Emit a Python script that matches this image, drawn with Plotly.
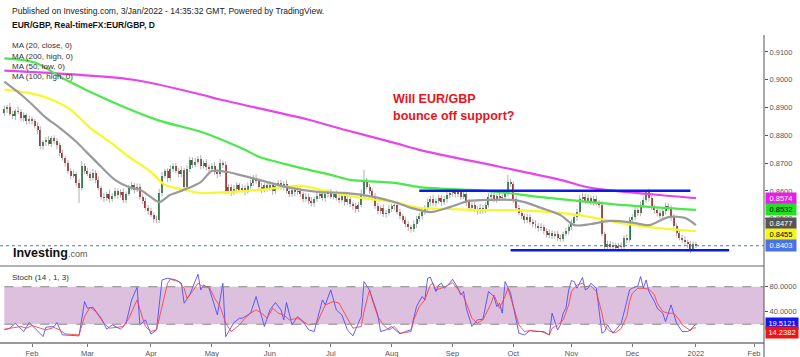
import plotly.graph_objects as go

# ---------------- DATA ----------------
# x = trading-day index, 0 = 1 Feb 2021 (weekdays only)
start_idx = -10
first_open = 0.8880
closes = [
    0.8895, 0.8902, 0.8878, 0.8870, 0.8889, 0.8885, 0.8862, 0.8872, 0.8850, 0.8858,
    0.8850, 0.8835, 0.8818, 0.8760, 0.8775, 0.8783, 0.8770, 0.8790, 0.8778, 0.8765,
    0.8735, 0.8718, 0.8700, 0.8672, 0.8655, 0.8660, 0.8630, 0.8612, 0.8690, 0.8672,
    0.8662, 0.8648, 0.8665, 0.8640, 0.8610, 0.8580, 0.8575, 0.8590, 0.8570, 0.8582,
    0.8600, 0.8585, 0.8595, 0.8568, 0.8590, 0.8612, 0.8620, 0.8605, 0.8615, 0.8580,
    0.8565, 0.8540, 0.8528, 0.8515, 0.8500, 0.8495, 0.8592, 0.8655, 0.8670, 0.8645,
    0.8680, 0.8690, 0.8672, 0.8660, 0.8675, 0.8615, 0.8680, 0.8712, 0.8695, 0.8705,
    0.8715, 0.8690, 0.8702, 0.8685, 0.8678, 0.8690, 0.8668, 0.8660, 0.8700, 0.8695,
    0.8600, 0.8615, 0.8595, 0.8608, 0.8620, 0.8605, 0.8612, 0.8598, 0.8618, 0.8630,
    0.8648, 0.8635, 0.8615, 0.8605, 0.8620, 0.8610, 0.8622, 0.8600, 0.8618, 0.8630,
    0.8615, 0.8625, 0.8600, 0.8590, 0.8605, 0.8595, 0.8600, 0.8588, 0.8572, 0.8580,
    0.8565, 0.8555, 0.8570, 0.8582, 0.8590, 0.8575, 0.8588, 0.8596, 0.8580, 0.8588,
    0.8575, 0.8568, 0.8582, 0.8560, 0.8570, 0.8552, 0.8545, 0.8535, 0.8550, 0.8590,
    0.8635, 0.8615, 0.8600, 0.8580, 0.8545, 0.8528, 0.8540, 0.8518, 0.8522, 0.8535,
    0.8545, 0.8550, 0.8525, 0.8510, 0.8495, 0.8480, 0.8470, 0.8462, 0.8480, 0.8500,
    0.8510, 0.8525, 0.8540, 0.8560, 0.8572, 0.8555, 0.8565, 0.8575, 0.8560, 0.8570,
    0.8585, 0.8592, 0.8598, 0.8588, 0.8595, 0.8580, 0.8590, 0.8560, 0.8540, 0.8548,
    0.8535, 0.8528, 0.8540, 0.8530, 0.8550, 0.8578, 0.8585, 0.8570, 0.8582, 0.8575,
    0.8580, 0.8590, 0.8632, 0.8625, 0.8570, 0.8540, 0.8522, 0.8510, 0.8495, 0.8505,
    0.8490, 0.8482, 0.8475, 0.8465, 0.8470, 0.8455, 0.8442, 0.8450, 0.8438, 0.8445,
    0.8432, 0.8428, 0.8445, 0.8455, 0.8470, 0.8485, 0.8505, 0.8525, 0.8570, 0.8580,
    0.8565, 0.8575, 0.8560, 0.8572, 0.8558, 0.8550, 0.8445, 0.8400, 0.8410, 0.8398,
    0.8405, 0.8395, 0.8402, 0.8398, 0.8430, 0.8425, 0.8495, 0.8505, 0.8530, 0.8520,
    0.8550, 0.8568, 0.8598, 0.8575, 0.8540, 0.8530, 0.8520, 0.8510, 0.8528, 0.8545,
    0.8538, 0.8505, 0.8475, 0.8450, 0.8432, 0.8425, 0.8415, 0.8408, 0.8392, 0.8410,
    0.8403,
]
upper_wick_pips = [
    12, 8, 15, 10, 6, 14, 9, 11, 7, 13,
    10, 9, 12, 15, 8, 11, 14, 7, 10, 12,
    9, 13, 8, 11, 10, 14, 7, 12, 18, 9,
    11, 8, 14, 10, 12, 9, 13, 7, 15, 10,
    12, 9, 11, 14, 8, 10, 13, 9, 12, 11,
    8, 10, 9, 12, 7, 11, 15, 14, 10, 12,
    13, 9, 11, 10, 14, 8, 12, 10, 9, 13,
    11, 14, 8, 12, 10, 9, 13, 11, 15, 9,
    12, 10, 9, 14, 11, 8, 12, 10, 13, 11,
    9, 12, 10, 14, 8, 11, 13, 9, 12, 10,
    11, 9, 13, 10, 12, 8, 14, 11, 9, 12,
    10, 13, 9, 11, 14, 8, 12, 10, 11, 9,
    13, 10, 12, 8, 11, 14, 9, 12, 10, 15,
    41, 12, 10, 9, 13, 11, 8, 12, 10, 14,
    9, 11, 13, 10, 8, 12, 11, 9, 14, 10,
    12, 10, 9, 13, 11, 14, 8, 12, 10, 11,
    13, 9, 11, 10, 12, 8, 14, 9, 11, 10,
    12, 10, 13, 9, 11, 14, 10, 12, 8, 11,
    10, 13, 26, 12, 9, 11, 10, 13, 8, 12,
    11, 9, 12, 10, 14, 8, 11, 13, 9, 10,
    12, 11, 9, 13, 10, 12, 14, 11, 15, 12,
    10, 13, 9, 11, 12, 10, 14, 9, 11, 10,
    12, 9, 11, 13, 10, 14, 12, 11, 13, 10,
    12, 11, 7, 10, 13, 9, 12, 11, 10, 13,
    11, 10, 12, 9, 11, 10, 12, 9, 11, 8,
    7,
]
lower_wick_pips = [
    10, 14, 9, 12, 15, 8, 11, 13, 10, 9,
    12, 10, 14, 9, 11, 13, 8, 12, 10, 15,
    11, 9, 13, 10, 12, 8, 14, 55, 10, 11,
    9, 12, 10, 13, 8, 11, 14, 10, 12, 9,
    10, 13, 9, 11, 12, 8, 10, 14, 9, 11,
    12, 10, 13, 9, 14, 11, 10, 12, 9, 13,
    10, 11, 9, 12, 10, 14, 8, 11, 13, 10,
    9, 12, 10, 11, 13, 8, 10, 14, 9, 12,
    11, 10, 13, 9, 12, 10, 11, 14, 8, 10,
    12, 9, 11, 13, 10, 12, 9, 14, 11, 10,
    10, 13, 9, 12, 11, 14, 10, 9, 12, 11,
    13, 10, 12, 9, 11, 10, 14, 12, 9, 11,
    10, 12, 9, 13, 11, 10, 12, 14, 11, 9,
    12, 10, 11, 13, 9, 12, 10, 11, 14, 10,
    11, 13, 10, 12, 9, 11, 14, 12, 10, 13,
    10, 12, 11, 9, 13, 10, 12, 11, 14, 10,
    12, 10, 13, 11, 9, 12, 10, 14, 11, 12,
    10, 13, 11, 12, 9, 10, 12, 11, 13, 10,
    12, 10, 11, 9, 13, 12, 10, 11, 12, 10,
    11, 13, 10, 12, 9, 11, 10, 12, 11, 10,
    12, 10, 11, 9, 12, 10, 11, 13, 10, 12,
    11, 10, 12, 13, 10, 11, 9, 12, 10, 11,
    9, 8, 12, 10, 11, 13, 10, 12, 11, 10,
    11, 12, 10, 13, 9, 11, 12, 10, 11, 12,
    10, 12, 11, 13, 10, 11, 12, 14, 16, 10,
    8,
]

# moving averages (trading-day index, value)
ma20_close = [(-10, 0.8993), (-4, 0.8947), (-1, 0.8921), (5, 0.8864), (10, 0.8827), (16, 0.8777),
              (20, 0.8737), (25, 0.8687), (30, 0.8640), (35, 0.8614), (39, 0.8604), (43, 0.8578),
              (46, 0.8560), (50, 0.8586), (55, 0.8604), (61, 0.8632), (65, 0.8672), (70, 0.8669),
              (75, 0.8658), (82, 0.8640), (92, 0.8614), (104, 0.8596), (113, 0.8593), (124, 0.8578),
              (131, 0.8560), (137, 0.8539), (144, 0.8524), (151, 0.8542), (158, 0.8564), (166, 0.8568),
              (173, 0.8568), (178, 0.8560), (184, 0.8539), (191, 0.8513), (196, 0.8477), (202, 0.8481),
              (209, 0.8492), (216, 0.8488), (223, 0.8477), (230, 0.8506), (236, 0.8503), (240, 0.8477)]
ma200_high = [(-10, 0.9033), (36, 0.9001), (61, 0.8947), (68, 0.8929), (100, 0.8856), (113, 0.8820),
              (131, 0.8773), (140, 0.8748), (169, 0.8687), (191, 0.8640), (202, 0.8611), (223, 0.8589),
              (240, 0.8574)]
ma50_low = [(-10, 0.8965), (0, 0.8950), (7, 0.8929), (14, 0.8892), (21, 0.8827), (28, 0.8777),
            (35, 0.8723), (43, 0.8669), (48, 0.8622), (55, 0.8604), (61, 0.8593), (82, 0.8604),
            (97, 0.8618), (108, 0.8596), (119, 0.8575), (131, 0.8560), (140, 0.8539), (151, 0.8535),
            (162, 0.8531), (173, 0.8531), (191, 0.8521), (202, 0.8506), (213, 0.8484), (223, 0.8470),
            (240, 0.8455)]
ma100_high = [(-10, 0.9077), (1, 0.9062), (12, 0.9001), (27, 0.8929), (46, 0.8853), (61, 0.8813),
              (77, 0.8748), (82, 0.8723), (97, 0.8683), (108, 0.8658), (115, 0.8640), (131, 0.8629),
              (140, 0.8614), (158, 0.8604), (169, 0.8596), (184, 0.8578), (202, 0.8560), (214, 0.8549),
              (240, 0.8532)]

# stochastic (14,1,3): %K (blue) and %D (red)
stoch_k = [(-10, 10.9), (-8, 13.6), (-6, 21.6), (-3, 8.3), (-1, 22.7), (1, 13.6), (4, 0.3), (5, 15.2),
           (8, 16.3), (9, 22.7), (11, 2.9), (17, 1.3), (19, 56.3), (20, 45.6), (22, 47.2), (25, 29.6),
           (27, 12.0), (29, 18.9), (32, 12.0), (34, 21.6), (36, 58.9), (38, 79.2), (39, 18.9), (41, 26.9),
           (43, 4.0), (45, 10.9), (47, 90.9), (49, 93.6), (52, 90.9), (54, 85.6), (55, 53.6), (57, 66.9),
           (60, 100.0), (61, 74.9), (62, 82.9), (64, 77.6), (67, 34.9), (69, 85.6), (70, 0.0), (73, 22.7),
           (75, 29.6), (76, 29.6), (79, 37.6), (81, 64.3), (84, 16.3), (86, 42.9), (88, 54.7), (90, 42.9),
           (91, 26.9), (92, 54.7), (94, 18.9), (96, 32.3), (98, 24.3), (100, 10.9), (102, 8.3), (105, 58.9),
           (106, 50.9), (108, 74.9), (110, 42.9), (112, 34.9), (114, 10.9), (116, 1.3), (119, 32.3),
           (120, 88.3), (122, 74.9), (125, 34.9), (126, 8.3), (128, 10.9), (130, 16.3), (132, 8.3),
           (133, 4.5), (135, 8.3), (137, 10.9), (139, 48.3), (141, 64.3), (142, 58.9), (143, 93.6),
           (144, 95.2), (146, 72.3), (147, 82.9), (148, 85.6), (149, 77.6), (151, 85.6), (152, 92.0),
           (154, 77.6), (155, 66.9), (156, 72.3), (157, 45.6), (159, 16.3), (161, 26.9), (163, 28.0),
           (165, 72.3), (167, 64.3), (168, 48.3), (169, 53.6), (170, 37.6), (171, 88.3), (173, 69.6),
           (175, 24.3), (176, 5.6), (178, 2.9), (180, 9.9), (182, 8.3), (185, 8.3), (187, 2.9), (188, 37.6),
           (190, 10.9), (191, 18.9), (192, 37.6), (193, 45.6), (194, 74.9), (195, 89.9), (196, 88.3),
           (197, 77.6), (199, 94.7), (200, 74.9), (201, 77.6), (202, 85.6), (204, 77.6), (206, 5.6),
           (207, 8.3), (208, 18.9), (210, 5.6), (211, 10.9), (213, 21.6), (215, 56.3), (216, 74.9),
           (217, 77.6), (219, 81.3), (220, 96.3), (221, 77.6), (222, 90.9), (223, 72.3), (225, 56.3),
           (226, 45.6), (228, 37.6), (229, 24.3), (231, 50.9), (233, 21.6), (235, 8.3), (237, 8.3),
           (238, 10.9), (239, 16.3), (240, 19.5121)]
stoch_d = [(-10, 12.0), (-7, 13.6), (-4, 16.3), (-2, 13.6), (0, 17.9), (3, 13.6), (5, 10.9), (8, 14.7),
           (10, 10.9), (12, 4.5), (17, 2.9), (19, 32.3), (21, 47.2), (23, 40.3), (26, 21.6), (28, 13.6),
           (31, 15.2), (33, 16.3), (35, 29.6), (37, 50.9), (38, 58.9), (40, 29.6), (41, 16.3), (43, 8.3),
           (45, 10.9), (47, 48.3), (49, 85.6), (50, 92.0), (53, 88.3), (55, 77.6), (56, 61.6), (58, 72.3),
           (60, 85.6), (62, 79.2), (64, 80.2), (66, 61.6), (68, 48.3), (70, 21.6), (72, 8.3), (75, 18.9),
           (77, 29.6), (79, 37.6), (81, 42.9), (83, 37.6), (85, 29.6), (87, 45.6), (89, 37.6), (91, 34.9),
           (93, 26.9), (96, 29.6), (98, 24.3), (100, 18.9), (103, 21.6), (105, 40.3), (106, 50.9),
           (109, 56.3), (111, 53.6), (113, 37.6), (114, 29.6), (116, 13.6), (119, 16.3), (120, 40.3),
           (122, 74.9), (123, 58.9), (125, 32.3), (127, 18.9), (129, 10.9), (131, 16.3), (132, 10.9),
           (133, 5.6), (135, 6.7), (137, 8.3), (138, 26.9), (140, 48.3), (142, 58.9), (144, 82.9),
           (145, 85.6), (146, 74.9), (148, 77.6), (150, 81.3), (152, 86.7), (154, 74.9), (156, 64.3),
           (157, 53.6), (159, 29.6), (161, 21.6), (163, 26.9), (166, 53.6), (167, 66.9), (169, 45.6),
           (171, 64.3), (172, 77.6), (174, 48.3), (176, 18.9), (178, 8.3), (180, 9.9), (184, 8.3),
           (187, 2.9), (188, 13.6), (190, 18.9), (192, 26.9), (194, 50.9), (195, 72.3), (197, 82.9),
           (199, 85.6), (200, 80.2), (202, 81.3), (204, 72.3), (206, 37.6), (207, 16.3), (209, 8.3),
           (211, 6.7), (213, 13.6), (215, 32.3), (216, 56.3), (217, 69.6), (219, 77.6), (221, 77.6),
           (223, 76.0), (225, 66.9), (226, 53.6), (228, 40.3), (230, 37.6), (232, 37.6), (234, 26.9),
           (235, 18.9), (238, 9.9), (239, 13.6), (240, 14.2382)]

# drawn support / resistance levels (day index from, day index to, price)
resistance = (140, 238, 0.8601)
support = (173, 252, 0.8387)
last_price = 0.8403

month_ticks = [0, 20, 43, 65, 86, 108, 130, 152, 174, 195, 217, 240, 261]
month_labels = ["Feb", "Mar", "Apr", "May", "Jun", "Jul", "Aug", "Sep", "Oct", "Nov", "Dec", "2022", "Feb"]
price_ticks = [0.85, 0.86, 0.87, 0.88, 0.89, 0.90, 0.91]
stoch_ticks = [40, 80]

# ---------------- STYLE / LAYOUT HELPERS ----------------
W, H = 800, 357
ML, MR, MT, MB = 0, 36, 35, 15
PW, PH = W - ML - MR, H - MT - MB


def px_x(px):
    return (px - ML) / PW


def px_y(py):
    return (H - MB - py) / PH


FONT = "Arial, Liberation Sans, sans-serif"
UP, DOWN = "#1E7A3C", "#A8292B"
WICK = "rgba(150,150,150,0.75)"

idx = list(range(start_idx, start_idx + len(closes)))
opens = [first_open] + closes[:-1]
highs = [max(o, c) + u / 10000 for o, c, u in zip(opens, closes, upper_wick_pips)]
lows = [min(o, c) - l / 10000 for o, c, l in zip(opens, closes, lower_wick_pips)]

wx, wy = [], []
for i, lo, hi in zip(idx, lows, highs):
    wx += [i, i, None]
    wy += [lo, hi, None]

fig = go.Figure()
fig.add_trace(go.Scatter(x=wx, y=wy, mode="lines", line=dict(color=WICK, width=1),
                         hoverinfo="skip", xaxis="x", yaxis="y"))
fig.add_trace(go.Bar(x=idx, base=[min(o, c) for o, c in zip(opens, closes)],
                     y=[max(abs(c - o), 0.00008) for o, c in zip(opens, closes)],
                     marker=dict(color=[UP if c >= o else DOWN for o, c in zip(opens, closes)],
                                 line=dict(width=0)),
                     width=0.72, hoverinfo="skip", xaxis="x", yaxis="y"))

for pts, col in [(ma200_high, "#E645EC"), (ma100_high, "#4BE84B"),
                 (ma50_low, "#F7F72A"), (ma20_close, "#9A9A9A")]:
    fig.add_trace(go.Scatter(x=[p[0] for p in pts], y=[p[1] for p in pts], mode="lines",
                             line=dict(color=col, width=2.2, shape="spline", smoothing=0.8),
                             hoverinfo="skip", xaxis="x", yaxis="y"))

fig.add_trace(go.Scatter(x=[p[0] for p in stoch_k], y=[p[1] for p in stoch_k], mode="lines",
                         line=dict(color="rgba(70,70,255,0.85)", width=1),
                         hoverinfo="skip", xaxis="x2", yaxis="y2"))
fig.add_trace(go.Scatter(x=[p[0] for p in stoch_d], y=[p[1] for p in stoch_d], mode="lines",
                         line=dict(color="rgba(255,60,60,0.85)", width=1),
                         hoverinfo="skip", xaxis="x2", yaxis="y2"))

x_range = [-11.57, 264.6]
shapes = [
    # stoch band
    dict(type="rect", xref="x2", yref="y2", x0=start_idx, x1=x_range[1], y0=20, y1=80,
         fillcolor="#DDC0DD", line=dict(width=0), layer="below"),
    dict(type="line", xref="x2", yref="y2", x0=start_idx, x1=x_range[1], y0=80, y1=80,
         line=dict(color="#888", width=1, dash="dash")),
    dict(type="line", xref="x2", yref="y2", x0=start_idx, x1=x_range[1], y0=20, y1=20,
         line=dict(color="#888", width=1, dash="dash")),
    # last price dotted line
    dict(type="line", xref="paper", yref="y", x0=0, x1=1, y0=last_price, y1=last_price,
         line=dict(color="#4A72E8", width=1, dash="dot")),
    # support / resistance
    dict(type="line", xref="x", yref="y", x0=resistance[0], x1=resistance[1],
         y0=resistance[2], y1=resistance[2], line=dict(color="#0A18E8", width=2.5)),
    dict(type="line", xref="x", yref="y", x0=support[0], x1=support[1],
         y0=support[2], y1=support[2], line=dict(color="#0A18E8", width=2.5)),
    # pane separator and right axis line
    dict(type="line", xref="paper", yref="paper", x0=0, x1=1, y0=px_y(266), y1=px_y(266),
         line=dict(color="#999", width=1.5)),
    dict(type="line", xref="paper", yref="paper", x0=1, x1=1, y0=px_y(357), y1=1,
         line=dict(color="#555", width=1)),
]

ann = []


def text(px, py, s, size=7.5, color="#222", anchor="left", bold=False):
    ann.append(dict(xref="paper", yref="paper", x=px_x(px), y=px_y(py), text=("<b>%s</b>" % s) if bold else s,
                    showarrow=False, xanchor=anchor, yanchor="middle",
                    font=dict(family=FONT, size=size, color=color)))


text(10, 11, "Published on Investing.com, 3/Jan/2022 - 14:35:32 GMT, Powered by TradingView.", size=8.5)
text(10, 25, "EUR/GBP, Real-timeFX:EUR/GBP, D", size=8.5, bold=True, color="#111")
text(10, 45, "MA (20, close, 0)", size=8, color="#333")
text(10, 56, "MA (200, high, 0)", size=8, color="#333")
text(10, 66, "MA (50, low, 0)", size=8, color="#333")
text(10, 77, "MA (100, high, 0)", size=8, color="#333")
text(10, 277, "Stoch (14 , 1, 3)", size=8, color="#333")
text(391, 99, "Will EUR/GBP", size=12.5, color="#E8141C", bold=True)
text(391, 116, "bounce off support?", size=12.5, color="#E8141C", bold=True)
text(11, 253, "<b>Investing</b><span style='font-size:9px;color:#555'>.com</span>", size=12.5, color="#111")

# right-axis value boxes: (label y position in price/oscillator units, text, bg, fg)
price_boxes = [(0.8574, "0.8574", "#E41FE8", "white"), (0.8532, "0.8532", "#22E022", "black"),
               (0.8482, "0.8477", "#555555", "white"), (0.8443, "0.8455", "#F5F51E", "black"),
               (0.8403, "0.8403", "#4A72E8", "white")]
for yv, s, bg, fg in price_boxes:
    ann.append(dict(xref="paper", yref="y", x=px_x(765), y=yv, text=s, showarrow=False,
                    xanchor="left", yanchor="middle", bgcolor=bg, borderpad=1, width=28,
                    font=dict(family=FONT, size=7.5, color=fg)))
stoch_boxes = [(20.5, "19.5121", "#1515F0", "white"), (7.5, "14.2382", "#F01515", "white")]
for yv, s, bg, fg in stoch_boxes:
    ann.append(dict(xref="paper", yref="y2", x=px_x(765), y=yv, text=s, showarrow=False,
                    xanchor="left", yanchor="middle", bgcolor=bg, borderpad=1, width=30,
                    font=dict(family=FONT, size=7.5, color=fg)))

axis_font = dict(family=FONT, size=7.5, color="#555")
fig.update_layout(
    width=W, height=H, margin=dict(l=ML, r=MR, t=MT, b=MB, autoexpand=False),
    paper_bgcolor="white", plot_bgcolor="white", showlegend=False, bargap=0,
    xaxis=dict(domain=[0, 1], anchor="y", range=x_range, showticklabels=False, ticks="",
               showgrid=False, zeroline=False, showline=False, fixedrange=True),
    yaxis=dict(domain=[px_y(266), 1], anchor="x", side="right", range=[0.8330, 0.9161],
               tickvals=price_ticks, ticktext=["%.4f" % v for v in price_ticks], ticks="outside",
               ticklen=3, tickcolor="#555", tickfont=axis_font, showgrid=False, zeroline=False,
               showline=False),
    xaxis2=dict(domain=[0, 1], anchor="y2", range=x_range, tickvals=month_ticks, ticktext=month_labels,
                ticks="outside", ticklen=3, tickcolor="#777", tickfont=axis_font, showgrid=False,
                zeroline=False, showline=True, linecolor="#999", linewidth=1.5),
    yaxis2=dict(domain=[0, px_y(268)], anchor="x2", side="right", range=[-8.5, 110],
                tickvals=stoch_ticks, ticktext=["%.4f" % v for v in stoch_ticks], ticks="outside",
                ticklen=3, tickcolor="#555", tickfont=axis_font, showgrid=False, zeroline=False,
                showline=False),
    shapes=shapes, annotations=ann,
)

fig.write_html("out.html", config={"displayModeBar": False, "staticPlot": True},
               post_script="document.body.style.margin='0';document.body.style.overflow='hidden';")
